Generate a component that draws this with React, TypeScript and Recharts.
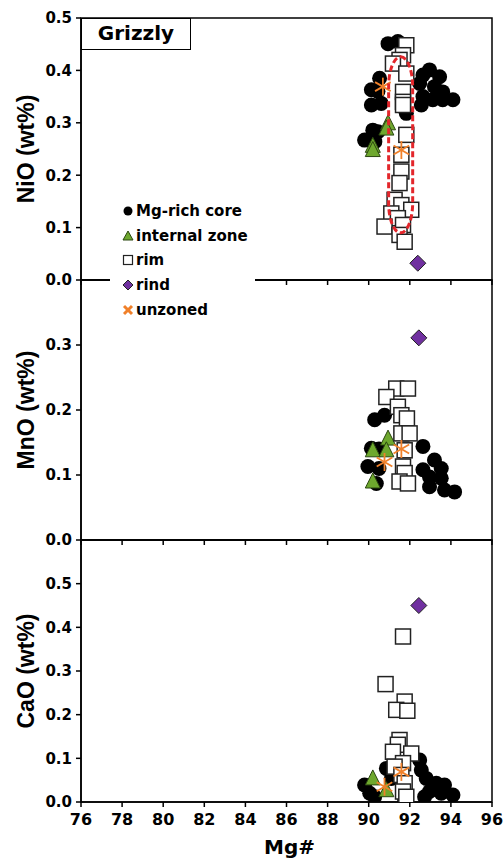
import React from "react";
import { ScatterChart, Scatter, XAxis, YAxis, ReferenceArea, Label } from "recharts";

type Pt = [number, number];

const FONT = "'DejaVu Sans', sans-serif";
const TITLE_FONT = "'Liberation Sans', Arial, sans-serif";

// axes
const xTicks = [76, 78, 80, 82, 84, 86, 88, 90, 92, 94, 96];
const niTicks = [0, 0.1, 0.2, 0.3, 0.4, 0.5];
const mnTicks = [0, 0.1, 0.2, 0.3];
const caTicks = [0, 0.1, 0.2, 0.3, 0.4, 0.5];

const seriesNames = ["Mg-rich core", "internal zone", "rim", "rind", "unzoned"];

// NiO (wt%) vs Mg#
const coreNiO: Pt[] = [
  [90.94, 0.451], [91.42, 0.455], [92.96, 0.401], [93.45, 0.388], [92.64, 0.391],
  [92.48, 0.375], [93.2, 0.369], [93.6, 0.359], [94.1, 0.344], [93.6, 0.344],
  [93.12, 0.344], [92.64, 0.35], [92.56, 0.334], [91.83, 0.318], [90.53, 0.385],
  [90.13, 0.363], [90.45, 0.36], [90.13, 0.334], [90.61, 0.337], [90.2, 0.286],
  [90.45, 0.283], [89.8, 0.267], [90.3, 0.264],
];
const zoneNiO: Pt[] = [[90.94, 0.299], [90.86, 0.289], [90.2, 0.256], [90.2, 0.248]];
const rimNiO: Pt[] = [
  [91.83, 0.448], [91.67, 0.429], [91.5, 0.42], [91.18, 0.413], [91.83, 0.394],
  [91.67, 0.359], [91.67, 0.34], [91.67, 0.334], [91.83, 0.277], [91.59, 0.239],
  [91.59, 0.207], [91.5, 0.185], [91.26, 0.153], [91.59, 0.143], [92.07, 0.134],
  [91.1, 0.127], [91.42, 0.118], [90.77, 0.102], [91.67, 0.105], [91.5, 0.086],
  [91.75, 0.073],
];
const rindNiO: Pt[] = [[92.39, 0.032]];
const unzonedNiO: Pt[] = [[90.69, 0.369], [91.59, 0.248]];
// dashed outline around the rim group
const rimGroupX = [90.97, 92.14];
const rimGroupY = [0.09, 0.426];

// MnO (wt%) vs Mg#
const coreMnO: Pt[] = [
  [90.29, 0.185], [90.77, 0.192], [90.13, 0.141], [90.5, 0.14], [89.96, 0.113],
  [90.5, 0.11], [90.37, 0.087], [92.64, 0.144], [93.2, 0.123], [93.53, 0.11],
  [92.64, 0.108], [92.96, 0.097], [93.53, 0.095], [92.96, 0.082], [93.69, 0.077],
  [94.18, 0.074],
];
const zoneMnO: Pt[] = [[90.94, 0.156], [90.2, 0.138], [90.86, 0.138], [90.2, 0.09]];
const rimMnO: Pt[] = [
  [91.34, 0.233], [91.91, 0.233], [90.86, 0.22], [91.42, 0.205], [91.59, 0.192],
  [91.86, 0.187], [91.59, 0.164], [91.99, 0.164], [91.75, 0.138], [91.67, 0.113],
  [91.75, 0.103], [91.5, 0.09], [91.91, 0.087],
];
const rindMnO: Pt[] = [[92.44, 0.311]];
const unzonedMnO: Pt[] = [[90.77, 0.12], [91.59, 0.14]];

// CaO (wt%) vs Mg#
const coreCaO: Pt[] = [
  [89.8, 0.039], [90.05, 0.02], [90.29, 0.012], [90.86, 0.077], [91.1, 0.054],
  [92.48, 0.096], [92.56, 0.073], [92.8, 0.054], [93.29, 0.043], [93.69, 0.039],
  [92.96, 0.024], [93.53, 0.02], [94.1, 0.016], [92.72, 0.012], [91.75, 0.005],
];
const zoneCaO: Pt[] = [[90.2, 0.054], [90.86, 0.027]];
const rimCaO: Pt[] = [
  [91.67, 0.379], [90.82, 0.27], [91.75, 0.23], [91.34, 0.211], [91.88, 0.209],
  [91.5, 0.142], [91.42, 0.131], [91.18, 0.115], [92.07, 0.111], [91.67, 0.089],
  [91.26, 0.081], [91.59, 0.062], [91.75, 0.043], [91.67, 0.024], [91.83, 0.012],
];
const rindCaO: Pt[] = [[92.44, 0.45]];
const unzonedCaO: Pt[] = [[90.77, 0.035], [91.59, 0.069]];

const toRows = (pts: Pt[]) => pts.map(([x, y]) => ({ x, y }));

// marker shapes
const Dot = (p: any) => <circle cx={p.cx} cy={p.cy} r={7.5} fill="#000" />;
const Box = (p: any) => (
  <rect x={p.cx - 7.5} y={p.cy - 7.5} width={15} height={15} fill="#fff" stroke="#222" strokeWidth={1.5} />
);
const Tri = (p: any) => (
  <polygon
    points={`${p.cx},${p.cy - 8.5} ${p.cx - 7.5},${p.cy + 6.5} ${p.cx + 7.5},${p.cy + 6.5}`}
    fill="#6ea82e"
    stroke="#2b4710"
    strokeWidth={1}
  />
);
const Diamond = (p: any) => (
  <polygon
    points={`${p.cx},${p.cy - 8} ${p.cx + 8},${p.cy} ${p.cx},${p.cy + 8} ${p.cx - 8},${p.cy}`}
    fill="#7030a0"
    stroke="#222"
    strokeWidth={1}
  />
);
const Aster = (p: any) => {
  const r = 9;
  const dx = r * Math.cos(Math.PI / 6);
  const dy = r * Math.sin(Math.PI / 6);
  return (
    <g stroke="#f0802a" strokeWidth={1.8}>
      <line x1={p.cx} y1={p.cy - r} x2={p.cx} y2={p.cy + r} />
      <line x1={p.cx - dx} y1={p.cy - dy} x2={p.cx + dx} y2={p.cy + dy} />
      <line x1={p.cx - dx} y1={p.cy + dy} x2={p.cx + dx} y2={p.cy - dy} />
    </g>
  );
};

const tickStyle = { fill: "#000", fontSize: 15, fontWeight: "bold", fontFamily: FONT };
const xTickStyle = { ...tickStyle, fontSize: 16 };
const lineStyle = { stroke: "#000", strokeWidth: 1.5 };

type PanelProps = {
  top: number;
  height: number;
  xHeight: number;
  yMax: number;
  yTicks: number[];
  yTitle: string;
  showX: boolean;
  core: Pt[];
  zone: Pt[];
  rim: Pt[];
  rind: Pt[];
  unzoned: Pt[];
  children?: React.ReactNode;
};

function Panel(props: PanelProps) {
  const { top, height, xHeight, yMax, yTicks, yTitle, showX } = props;
  return (
    <div style={{ position: "absolute", left: 0, top }}>
      <ScatterChart width={503} height={height} margin={{ top: 10, right: 11, bottom: 0, left: 0 }}>
        <XAxis
          type="number"
          dataKey="x"
          domain={[76, 96]}
          ticks={xTicks}
          allowDataOverflow
          height={xHeight}
          axisLine={lineStyle}
          tickLine={lineStyle}
          tickSize={5}
          tickMargin={7}
          tick={xTickStyle}
          tickFormatter={(v: number) => (showX ? String(v) : "")}
        >
          {showX && (
            <Label
              content={(p: any) => {
                const vb = p.viewBox || { x: 81, y: 272, width: 411 };
                return (
                  <text
                    x={vb.x + vb.width / 2 + 3}
                    y={vb.y + 52}
                    textAnchor="middle"
                    fontFamily={FONT}
                    fontWeight="bold"
                    fontSize={20}
                    fill="#000"
                  >
                    Mg#
                  </text>
                );
              }}
            />
          )}
        </XAxis>
        <YAxis
          type="number"
          dataKey="y"
          domain={[0, yMax]}
          ticks={yTicks}
          allowDataOverflow
          width={81}
          axisLine={lineStyle}
          tickLine={lineStyle}
          tickSize={5}
          tickMargin={4}
          tick={tickStyle}
          tickFormatter={(v: number) => v.toFixed(1)}
        >
          <Label
            content={(p: any) => {
              const vb = p.viewBox || { y: 10, height: 262 };
              const cy = vb.y + vb.height / 2;
              return (
                <text
                  x={34}
                  y={cy}
                  transform={`rotate(-90 34 ${cy})`}
                  textAnchor="middle"
                  fontFamily={TITLE_FONT}
                  fontWeight="bold"
                  fontSize={23}
                  fill="#000"
                >
                  {yTitle}
                </text>
              );
            }}
          />
        </YAxis>
        <ReferenceArea x1={76} x2={96} y1={0} y2={yMax} fill="none" stroke="#000" strokeWidth={1.5} ifOverflow="visible" />
        <Scatter data={toRows(props.core)} shape={Dot} isAnimationActive={false} />
        <Scatter data={toRows(props.zone)} shape={Tri} isAnimationActive={false} />
        <Scatter data={toRows(props.rim)} shape={Box} isAnimationActive={false} />
        <Scatter data={toRows(props.rind)} shape={Diamond} isAnimationActive={false} />
        <Scatter data={toRows(props.unzoned)} shape={Aster} isAnimationActive={false} />
        {props.children}
      </ScatterChart>
    </div>
  );
}

const legendIcons = [
  <circle cx={6} cy={6} r={4.5} fill="#000" />,
  <polygon points="6,1 11,10 1,10" fill="#6ea82e" stroke="#2b4710" strokeWidth={1} />,
  <rect x={1.5} y={1.5} width={9} height={9} fill="#fff" stroke="#222" strokeWidth={1.2} />,
  <polygon points="6,1 11,6 6,11 1,6" fill="#7030a0" stroke="#222" strokeWidth={1} />,
  <g stroke="#f0802a" strokeWidth={3}>
    <line x1={2} y1={2} x2={10} y2={10} />
    <line x1={2} y1={10} x2={10} y2={2} />
  </g>,
];

function LegendBox() {
  return (
    <div
      style={{
        position: "absolute",
        left: 110,
        top: 198,
        width: 145,
        height: 124,
        background: "#fff",
        fontFamily: FONT,
        fontWeight: "bold",
        fontSize: 15,
        color: "#000",
      }}
    >
      {seriesNames.map((name, i) => (
        <div
          key={name}
          style={{ position: "absolute", left: 12, top: 13 + i * 24.7 - 9, height: 18, display: "flex", alignItems: "center" }}
        >
          <svg width={12} height={12} style={{ display: "block" }}>
            {legendIcons[i]}
          </svg>
          <span style={{ marginLeft: 2, whiteSpace: "nowrap", lineHeight: "18px" }}>{name}</span>
        </div>
      ))}
    </div>
  );
}

export default function App() {
  return (
    <div style={{ position: "absolute", left: 0, top: 0, width: 503, height: 858, background: "#fff", overflow: "hidden" }}>
      <Panel
        top={8}
        height={282}
        xHeight={10}
        yMax={0.5}
        yTicks={niTicks}
        yTitle="NiO (wt%)"
        showX={false}
        core={coreNiO}
        zone={zoneNiO}
        rim={rimNiO}
        rind={rindNiO}
        unzoned={unzonedNiO}
      >
        <ReferenceArea
          x1={rimGroupX[0]}
          x2={rimGroupX[1]}
          y1={rimGroupY[0]}
          y2={rimGroupY[1]}
          zIndex={1000}
          shape={(p: any) => (
            <rect
              x={p.x}
              y={p.y}
              width={p.width}
              height={p.height}
              rx={12}
              ry={30}
              fill="none"
              stroke="#e3262b"
              strokeWidth={3}
              strokeDasharray="6 3"
            />
          )}
        />
      </Panel>
      <Panel
        top={270}
        height={280}
        xHeight={10}
        yMax={0.4}
        yTicks={mnTicks}
        yTitle="MnO (wt%)"
        showX={false}
        core={coreMnO}
        zone={zoneMnO}
        rim={rimMnO}
        rind={rindMnO}
        unzoned={unzonedMnO}
      />
      <Panel
        top={530}
        height={328}
        xHeight={56}
        yMax={0.6}
        yTicks={caTicks}
        yTitle="CaO (wt%)"
        showX={true}
        core={coreCaO}
        zone={zoneCaO}
        rim={rimCaO}
        rind={rindCaO}
        unzoned={unzonedCaO}
      />
      <LegendBox />
      <div
        style={{
          position: "absolute",
          left: 81,
          top: 18,
          width: 110,
          height: 32,
          boxSizing: "border-box",
          border: "1.5px solid #000",
          background: "#fff",
          fontFamily: FONT,
          fontWeight: "bold",
          fontSize: 20,
          lineHeight: "29px",
          textAlign: "center",
          color: "#000",
        }}
      >
        Grizzly
      </div>
    </div>
  );
}
